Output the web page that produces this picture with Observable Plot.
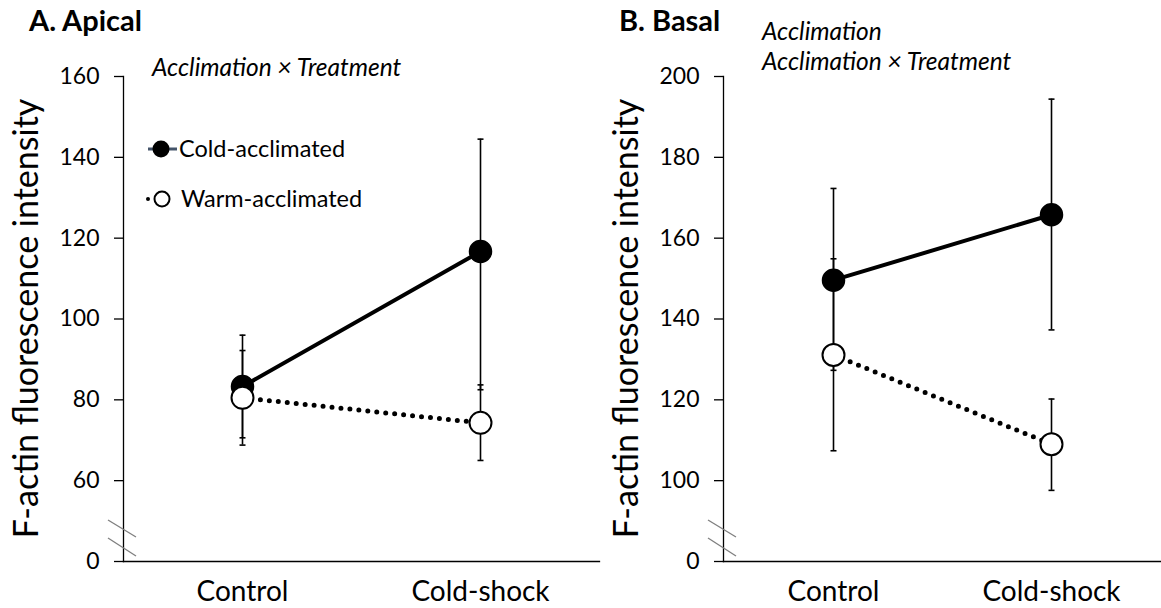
<!DOCTYPE html>
<html>
<head>
<meta charset="utf-8">
<script src="https://cdn.jsdelivr.net/npm/d3@7"></script>
<script src="https://cdn.jsdelivr.net/npm/@observablehq/plot@0.6"></script>
<style>
  html, body { margin: 0; padding: 0; background: white; }
  #root { position: relative; width: 1161px; height: 608px; font-family: Lato, sans-serif; }
  #root > svg, #root > figure { position: absolute; top: 0; margin: 0; }
</style>
</head>
<body>
<div id="root"></div>
<script>
// ---- data ----
const categories = ["Control", "Cold-shock"];

const apicalCold     = [83.3, 116.7];
const apicalColdLow  = [70.6, 82.5];
const apicalColdHigh = [96.0, 144.5];
const apicalWarm     = [80.5, 74.3];
const apicalWarmLow  = [68.8, 65.0];
const apicalWarmHigh = [92.2, 83.7];

const basalCold      = [149.6, 165.8];
const basalColdLow   = [127.3, 137.3];
const basalColdHigh  = [172.3, 194.4];
const basalWarm      = [131.1, 109.0];
const basalWarmLow   = [107.4, 97.6];
const basalWarmHigh  = [154.9, 120.2];

const apicalTicks = [40, 60, 80, 100, 120, 140, 160];   // 40 = axis break, labelled "0"
const basalTicks  = [80, 100, 120, 140, 160, 180, 200]; // 80 = axis break, labelled "0"

const yLabel = "F-actin fluorescence intensity";
const seriesNames = ["Cold-acclimated", "Warm-acclimated"];

// ---- helpers ----
const capSymbol = { draw(ctx) { ctx.moveTo(-3, 0); ctx.lineTo(3, 0); } };

function rows(vals, lo, hi, group) {
  return categories.map((c, i) => ({ cat: c, v: vals[i], lo: lo[i], hi: hi[i], group }));
}

function panel({ ticks, cold, coldLow, coldHigh, warm, warmLow, warmHigh, width, left }) {
  const coldRows = rows(cold, coldLow, coldHigh, seriesNames[0]);
  const warmRows = rows(warm, warmLow, warmHigh, seriesNames[1]);
  const all = coldRows.concat(warmRows);
  const base = ticks[0];
  const plot = Plot.plot({
    width, height: 608,
    marginLeft: 123, marginRight: 1, marginTop: 76, marginBottom: 47,
    style: { fontFamily: "Lato, sans-serif", fontSize: "23px", color: "black", background: "transparent", overflow: "visible" },
    x: { domain: categories, type: "point", padding: 0.5, label: null },
    y: { domain: [base, ticks[ticks.length - 1]], label: null },
    marks: [
      Plot.axisY({ ticks, tickSize: 9, tickPadding: 15, fontSize: 23, strokeWidth: 1.3,
                   tickFormat: d => d === base ? "0" : String(d) }),
      Plot.axisX({ tickSize: 0, tickPadding: 20, fontSize: 28 }),
      Plot.frame({ anchor: "left", strokeWidth: 1.3 }),
      Plot.frame({ anchor: "bottom", strokeWidth: 1.3 }),
      Plot.ruleX(all, { x: "cat", y1: "lo", y2: "hi", stroke: "black", strokeWidth: 1.6 }),
      Plot.dot(all, { x: "cat", y: "lo", symbol: capSymbol, stroke: "black", strokeWidth: 1.6 }),
      Plot.dot(all, { x: "cat", y: "hi", symbol: capSymbol, stroke: "black", strokeWidth: 1.6 }),
      Plot.line(coldRows, { x: "cat", y: "v", stroke: "black", strokeWidth: 4 }),
      Plot.line(warmRows, { x: "cat", y: "v", stroke: "black", strokeWidth: 5, strokeDasharray: "0 9", strokeLinecap: "round" }),
      Plot.dot(coldRows, { x: "cat", y: "v", r: 11, fill: "black", stroke: "black" }),
      Plot.dot(warmRows, { x: "cat", y: "v", r: 11, fill: "white", stroke: "black", strokeWidth: 2 })
    ]
  });
  const svg = plot.tagName === "svg" ? plot : plot.querySelector("svg");
  plot.style.left = left + "px";
  const ys = plot.scale("y");
  const y0 = ys.apply(base);
  const yTop = ys.apply(ticks[ticks.length - 1]);
  const sel = d3.select(svg);
  const x0 = 123;
  // axis-break marks
  [[-41, -24], [-23, -5]].forEach(([a, b]) => {
    sel.append("line").attr("x1", x0 - 15).attr("y1", y0 + a).attr("x2", x0 + 13).attr("y2", y0 + b)
      .attr("stroke", "#7f7f7f").attr("stroke-width", 1.3);
  });
  // y axis label
  sel.append("text")
    .attr("transform", `translate(${x0 - 99},${(y0 + yTop) / 2}) rotate(-90)`)
    .attr("text-anchor", "middle").attr("dominant-baseline", "central")
    .attr("font-size", 34).attr("fill", "black").text(yLabel);
  return plot;
}

const root = document.getElementById("root");
root.appendChild(panel({ ticks: apicalTicks, cold: apicalCold, coldLow: apicalColdLow, coldHigh: apicalColdHigh,
  warm: apicalWarm, warmLow: apicalWarmLow, warmHigh: apicalWarmHigh, width: 600, left: 0 }));
root.appendChild(panel({ ticks: basalTicks, cold: basalCold, coldLow: basalColdLow, coldHigh: basalColdHigh,
  warm: basalWarm, warmLow: basalWarmLow, warmHigh: basalWarmHigh, width: 561, left: 600 }));

// ---- overlay: titles, annotations, legend ----
const ov = d3.select(root).append("svg")
  .attr("width", 1161).attr("height", 608)
  .style("left", "0px").style("pointer-events", "none")
  .style("font-family", "Lato, sans-serif");

ov.append("text").attr("x", 29).attr("y", 31).attr("font-size", 29).attr("font-weight", "bold").text("A. Apical");
ov.append("text").attr("x", 619).attr("y", 31).attr("font-size", 29).attr("font-weight", "bold").text("B. Basal");

ov.append("text").attr("x", 152).attr("y", 76).attr("font-size", 24.5).attr("font-style", "italic").text("Acclimation × Treatment");
ov.append("text").attr("x", 762).attr("y", 40).attr("font-size", 24.5).attr("font-style", "italic").text("Acclimation");
ov.append("text").attr("x", 762).attr("y", 70).attr("font-size", 24.5).attr("font-style", "italic").text("Acclimation × Treatment");

// legend
ov.append("line").attr("x1", 148).attr("x2", 177).attr("y1", 149).attr("y2", 149).attr("stroke", "#44546a").attr("stroke-width", 3);
ov.append("circle").attr("cx", 161).attr("cy", 149).attr("r", 8.5).attr("fill", "black");
ov.append("text").attr("x", 179).attr("y", 157).attr("font-size", 23.5).text(seriesNames[0]);
ov.append("circle").attr("cx", 148).attr("cy", 199).attr("r", 2).attr("fill", "black");
ov.append("circle").attr("cx", 162).attr("cy", 199).attr("r", 7.5).attr("fill", "white").attr("stroke", "black").attr("stroke-width", 2);
ov.append("text").attr("x", 181).attr("y", 207).attr("font-size", 23.5).text(seriesNames[1]);
</script>
</body>
</html>
